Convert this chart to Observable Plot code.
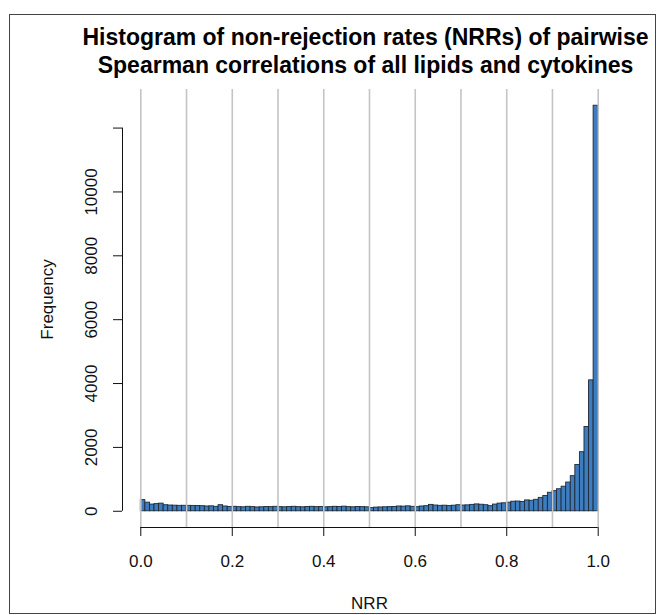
<!DOCTYPE html>
<html>
<head>
<meta charset="utf-8">
<script src="https://cdn.jsdelivr.net/npm/d3@7"></script>
<script src="https://cdn.jsdelivr.net/npm/@observablehq/plot@0.6"></script>
<style>
  html, body { margin: 0; padding: 0; background: #fff; }
  #wrap { position: relative; width: 667px; height: 615px; }
  #wrap svg { position: absolute; left: 0; top: 0; }
  #border { position: absolute; left: 9px; top: 14px; width: 645px; height: 598px; border: 1px solid #444; pointer-events: none; }
</style>
</head>
<body>
<div id="wrap"><div id="border"></div></div>
<script>
// Histogram counts, 100 bins of width 0.01 from 0 to 1
const binWidth = 0.01;
const counts = [
  350, 270, 210, 225, 240, 190, 180, 175, 170, 172,
  170, 168, 165, 160, 150, 155, 140, 190, 150, 135,
  140, 130, 125, 140, 130, 120, 125, 135, 130, 140,
  130, 125, 135, 140, 130, 125, 135, 140, 130, 135,
  125, 130, 140, 135, 145, 130, 125, 135, 130, 125,
  100, 115, 120, 125, 130, 135, 150, 145, 155, 140,
  130, 150, 160, 200, 180, 170, 175, 165, 175, 190,
  180, 185, 200, 215, 205, 190, 160, 210, 240, 250,
  270, 300, 305, 290, 340, 330, 360, 420, 480, 580,
  630, 690, 770, 900, 1100, 1450, 1850, 2640, 4100, 12700
];
const xTicks = [0, 0.2, 0.4, 0.6, 0.8, 1.0];
const xTickLabels = ["0.0", "0.2", "0.4", "0.6", "0.8", "1.0"];
const yTicks = [0, 2000, 4000, 6000, 8000, 10000, 12000];
const yTickLabels = ["0", "2000", "4000", "6000", "8000", "10000", ""];
const gridLines = [0, 0.1, 0.2, 0.3, 0.4, 0.5, 0.6, 0.7, 0.8, 0.9, 1.0];
const titleLines = [
  "Histogram of non-rejection rates (NRRs) of pairwise",
  "Spearman correlations of all lipids and cytokines"
];
const xLabel = "NRR";
const yLabel = "Frequency";

const bins = counts.map((c, i) => ({x1: i * binWidth, x2: (i + 1) * binWidth, count: c}));

// R-style plot region (4% extension of the data range)
const yMax = d3.max(counts);
const usrX = [-0.04, 1.04];
const usrY = [-0.04 * yMax, 1.04 * yMax];

const font = "'Liberation Sans', Arial, Helvetica, sans-serif";
const ink = "#111";

const chart = Plot.plot({
  width: 667,
  height: 615,
  marginLeft: 122,
  marginRight: 51,
  marginTop: 89,
  marginBottom: 88,
  x: {domain: usrX, axis: null},
  y: {domain: usrY, axis: null},
  style: {fontFamily: font, background: "transparent", overflow: "visible", color: ink},
  marks: [
    Plot.rectY(bins, {x1: "x1", x2: "x2", y: "count", fill: "#3d7dbf", stroke: "#1e2a36", strokeWidth: 0.9}),
    Plot.ruleX(gridLines, {stroke: "#c4c4c4", strokeWidth: 1.6}),
    Plot.ruleY([usrY[0]], {x1: xTicks[0], x2: xTicks[xTicks.length - 1], stroke: ink, strokeWidth: 1}),
    Plot.ruleX([usrX[0]], {y1: yTicks[0], y2: yTicks[yTicks.length - 1], stroke: ink, strokeWidth: 1}),
    Plot.axisX({ticks: xTicks, tickSize: 9, tickFormat: () => "", label: null, stroke: ink}),
    Plot.axisY({ticks: yTicks, tickSize: 9, tickFormat: () => "", label: null, stroke: ink}),
    Plot.text(xTicks, {x: d => d, text: (d, i) => xTickLabels[i], frameAnchor: "bottom", dy: 34,
      textAnchor: "middle", lineAnchor: "middle", fontSize: 17, fill: ink}),
    Plot.text(yTicks, {y: d => d, text: (d, i) => yTickLabels[i], frameAnchor: "left", dx: -31, rotate: -90,
      textAnchor: "middle", lineAnchor: "middle", fontSize: 17, fill: ink}),
    Plot.text([xLabel], {text: d => d, frameAnchor: "bottom", dy: 76,
      textAnchor: "middle", lineAnchor: "middle", fontSize: 17, fill: ink}),
    Plot.text([yLabel], {text: d => d, frameAnchor: "left", dx: -75, dy: -9, rotate: -90,
      textAnchor: "middle", lineAnchor: "middle", fontSize: 17, fill: ink}),
    Plot.text([titleLines[0]], {text: d => d, frameAnchor: "top", dx: -4, dy: -52,
      textAnchor: "middle", lineAnchor: "middle", fontSize: 23, fontWeight: "bold", fill: "#000"}),
    Plot.text([titleLines[1]], {text: d => d, frameAnchor: "top", dx: -4, dy: -24,
      textAnchor: "middle", lineAnchor: "middle", fontSize: 23, fontWeight: "bold", fill: "#000"})
  ]
});
document.getElementById("wrap").prepend(chart);
</script>
</body>
</html>
